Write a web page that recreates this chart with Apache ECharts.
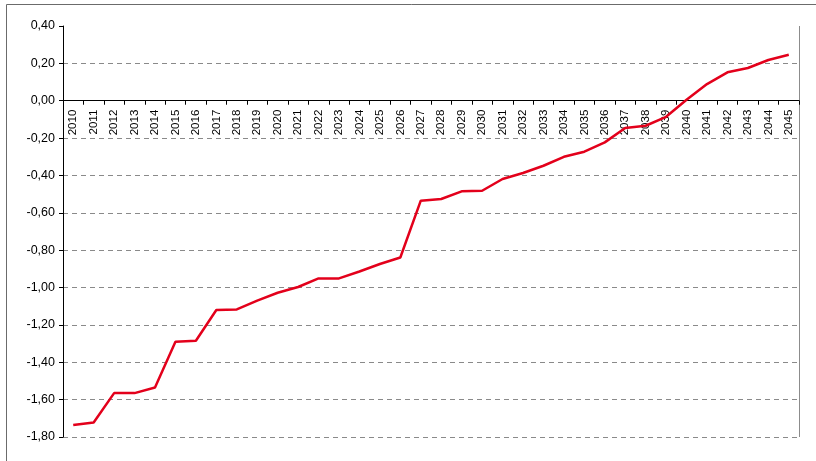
<!DOCTYPE html>
<html>
<head>
<meta charset="utf-8">
<script src="https://cdn.jsdelivr.net/npm/echarts@6/dist/echarts.min.js"></script>
<style>
  html, body { margin: 0; padding: 0; background: #ffffff; }
  #chart { width: 816px; height: 461px; }
</style>
</head>
<body>
<div id="chart"></div>
<script>
// Years on the category axis
const years = [
  '2010','2011','2012','2013','2014','2015','2016','2017','2018','2019',
  '2020','2021','2022','2023','2024','2025','2026','2027','2028','2029',
  '2030','2031','2032','2033','2034','2035','2036','2037','2038','2039',
  '2040','2041','2042','2043','2044','2045'
];

// Annual values
const values = [
  -1.736, -1.722, -1.565, -1.565, -1.535, -1.290, -1.285, -1.120, -1.117, -1.070,
  -1.028, -0.997, -0.951, -0.951, -0.914, -0.874, -0.839, -0.535, -0.526, -0.485,
  -0.482, -0.419, -0.387, -0.348, -0.300, -0.273, -0.223, -0.146, -0.134, -0.086,
   0.005,  0.089,  0.152,  0.175,  0.218,  0.246
];

// Value axis range and step
const yMin = -1.8;
const yMax = 0.4;
const yStep = 0.2;

const fmt = v => v.toFixed(2).replace('.', ',');

// Plot area box (pixels)
const G = { left: 63, right: 17, top: 26, bottom: 24 };
const W = 816, H = 461;
const plotH = H - G.top - G.bottom;
// lift the category axis from the bottom edge up to the zero level
const zeroLift = (0 - yMin) / (yMax - yMin) * plotH;

const chart = echarts.init(document.getElementById('chart'), null, { renderer: 'canvas' });

chart.setOption({
  animation: false,
  backgroundColor: '#ffffff',
  graphic: [{
    // outer chart frame
    type: 'rect',
    left: 4, top: 2,
    shape: { width: 840, height: 500 },
    style: { fill: 'none', stroke: '#6b6b6b', lineWidth: 1 },
    silent: true
  }, {
    // right edge of the plot area
    type: 'line',
    shape: { x1: W - G.right + 0.5, y1: G.top, x2: W - G.right + 0.5, y2: H - G.bottom },
    style: { stroke: '#8c8c8c', lineWidth: 1 },
    silent: true
  }],
  grid: { left: G.left, right: G.right, top: G.top, bottom: G.bottom, containLabel: false, outerBoundsMode: 'none' },
  xAxis: {
    type: 'category',
    data: years,
    boundaryGap: true,
    position: 'bottom',
    offset: -zeroLift,
    axisLine: { show: true, onZero: false, lineStyle: { color: '#000000', width: 1 } },
    axisTick: { show: true, alignWithLabel: false, length: 4, inside: false, lineStyle: { color: '#000000' } },
    axisLabel: {
      interval: 0,
      rotate: 90,
      margin: 9,
      color: '#000000',
      fontFamily: 'Liberation Sans, Arial, sans-serif',
      fontSize: 11.5
    },
    splitLine: { show: false }
  },
  yAxis: {
    type: 'value',
    min: yMin,
    max: yMax,
    interval: yStep,
    axisLine: { show: true, lineStyle: { color: '#000000', width: 1 } },
    axisTick: { show: true, length: 4, lineStyle: { color: '#000000' } },
    axisLabel: {
      margin: 8,
      color: '#000000',
      fontFamily: 'Liberation Sans, Arial, sans-serif',
      fontSize: 12.5,
      formatter: v => fmt(v)
    },
    splitLine: { show: true, showMaxLine: false, lineStyle: { color: '#8a8a8a', type: [5, 4], width: 1 } }
  },
  series: [{
    type: 'line',
    data: values,
    symbol: 'none',
    smooth: false,
    lineStyle: { color: '#e3001b', width: 2.5 },
    z: 5
  }]
});
</script>
</body>
</html>
